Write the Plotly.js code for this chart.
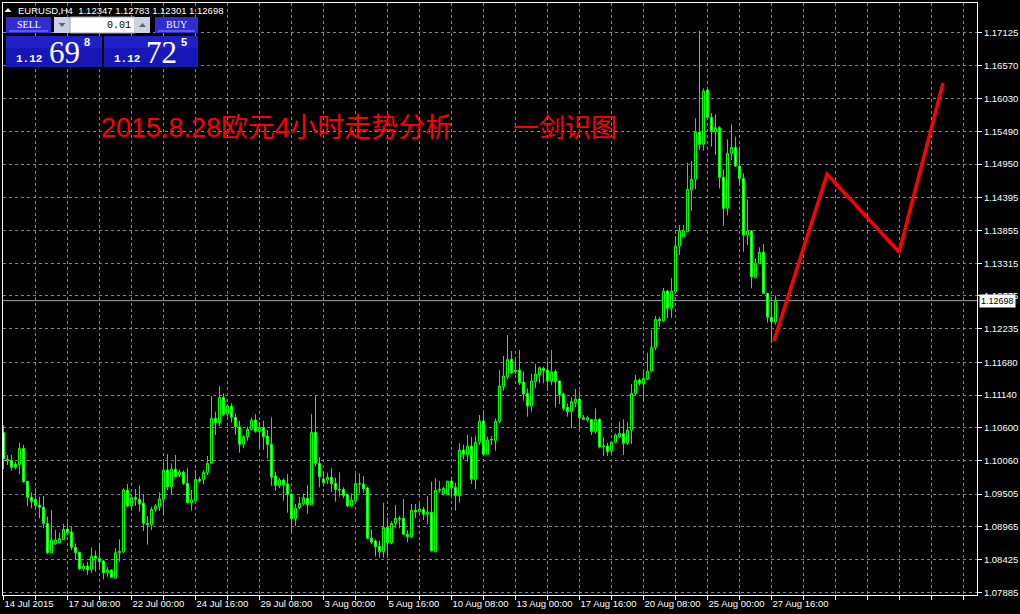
<!DOCTYPE html>
<html>
<head>
<meta charset="utf-8">
<script src="https://cdn.plot.ly/plotly-3.0.1.min.js"></script>
<style>
  html, body { margin: 0; padding: 0; background: #000; }
  #chart { width: 1020px; height: 614px; }
</style>
</head>
<body>
<div id="chart"></div>
<script>
// EURUSD H4 bars, 14 Jul 2015 16:00 to 27 Aug 2015 20:00
const openP = [
  1.10525,1.10079,1.10063,1.10002,1.09997,1.10261,1.09716,1.09452,1.09419,1.09326,
  1.09287,1.09023,1.08539,1.08688,1.08704,1.08759,1.08930,1.08880,1.08627,1.08545,
  1.08275,1.08319,1.08264,1.08484,1.08446,1.08402,1.08209,1.08253,1.08121,1.08539,
  1.08550,1.09573,1.09309,1.09452,1.09419,1.09353,1.09023,1.09001,1.09254,1.09298,
  1.09419,1.09903,1.09628,1.09914,1.09821,1.09865,1.09683,1.09364,1.09397,1.09749,
  1.09749,1.09859,1.10013,1.10756,1.10684,1.11102,1.10827,1.10959,1.10772,1.10618,
  1.10327,1.10453,1.10574,1.10728,1.10541,1.10607,1.10464,1.10327,1.09804,1.09650,
  1.09738,1.09672,1.09507,1.09100,1.09282,1.09348,1.09436,1.09331,1.10525,1.10013,
  1.09755,1.09738,1.09782,1.09683,1.09584,1.09584,1.09496,1.09309,1.09397,1.09683,
  1.09672,1.09606,1.08776,1.08732,1.08644,1.08556,1.08957,1.08704,1.09023,1.09106,
  1.09106,1.08842,1.08803,1.09238,1.09216,1.09254,1.09172,1.09205,1.08556,1.09568,
  1.09507,1.09496,1.09722,1.09617,1.09480,1.10233,1.10156,1.10299,1.09749,1.10360,
  1.10712,1.10162,1.10398,1.10387,1.10701,1.11278,1.11443,1.11729,1.11526,1.11553,
  1.11355,1.11168,1.10959,1.11361,1.11471,1.11581,1.11553,1.11372,1.11526,1.11372,
  1.11157,1.10937,1.10866,1.11014,1.11075,1.10767,1.10728,1.10739,1.10536,1.10739,
  1.10288,1.10299,1.10222,1.10360,1.10453,1.10508,1.10343,1.10563,1.11168,1.11388,
  1.11322,1.11405,1.11537,1.11928,1.12390,1.12366,1.12857,1.12571,1.12845,1.13599,
  1.13752,1.13835,1.14523,1.14700,1.15475,1.15277,1.16173,1.15723,1.15485,1.15551,
  1.14733,1.14221,1.15129,1.15228,1.14919,1.14716,1.13781,1.13847,1.13083,1.13314,
  1.13495,1.12819,1.12423,1.12347
];
const highP = [
  1.10646,1.10151,1.10151,1.10041,1.10354,1.10316,1.09716,1.09535,1.09601,1.09463,
  1.09474,1.09133,1.09243,1.08913,1.08869,1.09012,1.09040,1.08968,1.08693,1.08556,
  1.08363,1.08391,1.08627,1.08572,1.08704,1.08418,1.08308,1.08264,1.08611,1.08759,
  1.09601,1.09672,1.09463,1.09590,1.09650,1.09491,1.09144,1.09298,1.09342,1.09535,
  1.10030,1.10167,1.10013,1.10151,1.09914,1.09898,1.09942,1.09573,1.09903,1.09793,
  1.09903,1.10134,1.11124,1.10866,1.11289,1.11168,1.10992,1.11003,1.10838,1.10717,
  1.10481,1.10618,1.10772,1.10827,1.10701,1.10717,1.10563,1.10772,1.09876,1.09771,
  1.09766,1.09837,1.09518,1.09342,1.09463,1.09518,1.09656,1.10827,1.11124,1.10118,
  1.09859,1.09859,1.09931,1.09782,1.09865,1.09617,1.09518,1.09518,1.09837,1.09848,
  1.09804,1.09628,1.08924,1.08759,1.08737,1.09364,1.09122,1.09056,1.09326,1.09144,
  1.09425,1.08913,1.09342,1.09342,1.09342,1.09298,1.09474,1.09711,1.09766,1.09722,
  1.09628,1.09722,1.09793,1.09694,1.10343,1.10321,1.10481,1.10453,1.10475,1.10811,
  1.10893,1.10453,1.10464,1.10756,1.11553,1.11784,1.12131,1.11867,1.11718,1.11883,
  1.11526,1.11251,1.11487,1.11652,1.11608,1.11608,1.11707,1.11883,1.11564,1.11372,
  1.11179,1.11003,1.11102,1.11240,1.11212,1.10811,1.10800,1.10739,1.10921,1.10756,
  1.10442,1.10354,1.10382,1.10508,1.10701,1.10739,1.10690,1.11322,1.11471,1.11416,
  1.11526,1.11839,1.12213,1.12444,1.12432,1.12906,1.12873,1.13071,1.13764,1.13946,
  1.13946,1.14973,1.15002,1.15706,1.17147,1.16201,1.16185,1.15794,1.15772,1.15579,
  1.14865,1.15360,1.15607,1.15402,1.15237,1.14799,1.14370,1.13863,1.13396,1.13578,
  1.13632,1.12819,1.12680,1.12783
];
const lowP = [
  1.09914,1.09986,1.09892,1.09914,1.09832,1.09694,1.09309,1.09271,1.09260,1.09106,
  1.08941,1.08517,1.08528,1.08666,1.08693,1.08748,1.08820,1.08583,1.08418,1.08253,
  1.08242,1.08171,1.08209,1.08226,1.08270,1.08099,1.08143,1.08116,1.08105,1.08391,
  1.08539,1.09287,1.09232,1.09309,1.09216,1.08897,1.08671,1.08913,1.09216,1.09227,
  1.09172,1.09573,1.09491,1.09777,1.09782,1.09656,1.09353,1.09232,1.09381,1.09694,
  1.09667,1.09821,1.10013,1.10481,1.10629,1.10794,1.10783,1.10684,1.10481,1.10189,
  1.10261,1.10387,1.10563,1.10519,1.10261,1.10233,1.10096,1.09645,1.09562,1.09606,
  1.09397,1.09199,1.08875,1.08979,1.09254,1.09315,1.09183,1.09331,1.09958,1.09617,
  1.09628,1.09672,1.09540,1.09381,1.09463,1.09436,1.09298,1.09298,1.09381,1.09518,
  1.09529,1.08759,1.08677,1.08473,1.08457,1.08457,1.08484,1.08677,1.08941,1.08941,
  1.08831,1.08710,1.08776,1.09106,1.09199,1.09078,1.09007,1.08556,1.08545,1.09529,
  1.09480,1.09491,1.09480,1.09232,1.09364,1.10079,1.10041,1.09672,1.09584,1.10316,
  1.10151,1.10151,1.10316,1.10222,1.10673,1.11212,1.11399,1.11487,1.11487,1.11306,
  1.11047,1.10783,1.10866,1.11251,1.11333,1.11333,1.11207,1.11306,1.10937,1.10992,
  1.10882,1.10783,1.10591,1.10937,1.10563,1.10728,1.10701,1.10481,1.10508,1.10261,
  1.10134,1.10134,1.10167,1.10343,1.10442,1.10151,1.10316,1.10332,1.11141,1.11295,
  1.11047,1.11388,1.11520,1.11883,1.12267,1.12350,1.12406,1.12411,1.12845,1.13451,
  1.13743,1.13835,1.14181,1.14535,1.15183,1.15171,1.15706,1.15237,1.15101,1.14551,
  1.13934,1.14111,1.15018,1.14907,1.14622,1.13505,1.13616,1.12901,1.13071,1.13314,
  1.12807,1.12333,1.11994,1.12301
];
const closeP = [
  1.10085,1.10057,1.09947,1.09947,1.10261,1.09710,1.09452,1.09381,1.09315,1.09287,
  1.09023,1.08539,1.08748,1.08748,1.08770,1.08924,1.08869,1.08627,1.08539,1.08275,
  1.08319,1.08253,1.08484,1.08446,1.08391,1.08209,1.08253,1.08132,1.08539,1.08561,
  1.09573,1.09309,1.09452,1.09419,1.09342,1.09023,1.09001,1.09254,1.09309,1.09425,
  1.09903,1.09628,1.09920,1.09793,1.09870,1.09683,1.09364,1.09408,1.09749,1.09727,
  1.09865,1.10013,1.10756,1.10684,1.11102,1.10822,1.10959,1.10772,1.10618,1.10327,
  1.10453,1.10574,1.10728,1.10541,1.10607,1.10453,1.10327,1.09782,1.09650,1.09738,
  1.09656,1.09502,1.09100,1.09276,1.09353,1.09447,1.09331,1.10525,1.10013,1.09793,
  1.09694,1.09782,1.09678,1.09584,1.09573,1.09480,1.09309,1.09408,1.09683,1.09672,
  1.09595,1.08776,1.08715,1.08638,1.08556,1.08957,1.08704,1.09023,1.09106,1.09095,
  1.08842,1.08803,1.09238,1.09210,1.09260,1.09172,1.09205,1.08572,1.09568,1.09584,
  1.09600,1.09722,1.09611,1.09480,1.10233,1.10162,1.10299,1.09749,1.10360,1.10712,
  1.10162,1.10398,1.10409,1.10712,1.11289,1.11454,1.11729,1.11509,1.11553,1.11344,
  1.11157,1.10959,1.11372,1.11487,1.11592,1.11542,1.11372,1.11526,1.11361,1.11141,
  1.10921,1.10866,1.11031,1.11075,1.10767,1.10739,1.10767,1.10536,1.10739,1.10288,
  1.10299,1.10206,1.10360,1.10481,1.10508,1.10343,1.10563,1.11168,1.11388,1.11333,
  1.11416,1.11537,1.11928,1.12390,1.12366,1.12857,1.12571,1.12857,1.13599,1.13851,
  1.13851,1.14535,1.14700,1.15485,1.15277,1.16157,1.15723,1.15485,1.15551,1.14733,
  1.14221,1.15129,1.15228,1.14919,1.14716,1.13781,1.13847,1.13092,1.13314,1.13495,
  1.12819,1.12423,1.12347,1.12698
];

// Bottom axis labels, one every 16 bars
const dateTickIndex = [0, 16, 32, 48, 64, 80, 96, 112, 128, 144, 160, 176, 192];
const dateTickText = [
  "14 Jul 2015", "17 Jul 08:00", "22 Jul 00:00", "24 Jul 16:00", "29 Jul 08:00",
  "3 Aug 00:00", "5 Aug 16:00", "10 Aug 08:00", "13 Aug 00:00", "17 Aug 16:00",
  "20 Aug 08:00", "25 Aug 00:00", "27 Aug 16:00"
];
// Price scale labels
const priceTicks = [
  1.17125, 1.16570, 1.16030, 1.15490, 1.14950, 1.14395, 1.13855, 1.13315, 1.12775,
  1.12235, 1.11680, 1.11140, 1.10600, 1.10060, 1.09505, 1.08965, 1.08425, 1.07885
];
// Hand-drawn forecast zigzag (bar position, price)
const forecastBar = [192.6, 205.9, 223.9, 234.9];
const forecastPrice = [1.12032, 1.14787, 1.13500, 1.16289];
// One-click trading panel quotes
const sellQuote = ["1.12", "69", "8"];
const buyQuote = ["1.12", "72", "5"];
const lotSize = "0.01";
const symbolName = "EURUSD,H4";
const titleLeft = "2015.8.28欧元4小时走势分析";
const titleRight = "一剑识图";

const barIndex = openP.map((_, i) => i);
const lastBar = openP.length - 1;
const lastClose = closeP[lastBar];
const fmt5 = v => v.toFixed(5);

// ---- plot geometry (pixels) ----
const W = 1020, H = 614;
const PL = 3, PR = 977, PT = 3, PB = 595;
const px = x => (x - PL) / (PR - PL);
const py = y => (PB - y) / (PB - PT);

const GRID = '#778899';
const sansFont = 'Liberation Sans, Arial, sans-serif';

// vertical grid/minor ticks every 8 bars between the labelled ones
const minorVals = [];
for (let v = 8; v <= 243; v += 16) minorVals.push(v);
const extraMajor = [];
for (let v = 208; v <= 243; v += 16) extraMajor.push(v);

const shapes = [];
const annotations = [];

function rect(x0, y0, x1, y1, fill, line) {
  shapes.push({
    type: 'rect', xref: 'paper', yref: 'paper', layer: 'above',
    x0: px(x0), x1: px(x1), y0: py(y1), y1: py(y0),
    fillcolor: fill, line: { color: line || fill, width: line ? 1 : 0 }
  });
}
function hline(x0, x1, y, color) {
  shapes.push({
    type: 'line', xref: 'paper', yref: 'paper', layer: 'above',
    x0: px(x0), x1: px(x1), y0: py(y), y1: py(y),
    line: { color: color, width: 1 }
  });
}
function tri(cx, cy, up, color) {
  const s = 3.5;
  const pts = up
    ? [[cx - s, cy + 2], [cx + s, cy + 2], [cx, cy - 2]]
    : [[cx - s, cy - 2], [cx + s, cy - 2], [cx, cy + 2]];
  const d = 'M' + pts.map(p => px(p[0]) + ',' + py(p[1])).join(' L') + ' Z';
  shapes.push({ type: 'path', xref: 'paper', yref: 'paper', layer: 'above',
    path: d, fillcolor: color, line: { color: color, width: 0 } });
}
function label(x, y, text, opts) {
  opts = opts || {};
  annotations.push({
    xref: 'paper', yref: 'paper', x: px(x), y: py(y), text: text,
    showarrow: false, xanchor: opts.xanchor || 'left', yanchor: opts.yanchor || 'middle',
    font: { family: opts.family || sansFont, size: opts.size || 9,
            color: opts.color || '#ffffff', weight: opts.weight || 'normal' },
    borderpad: 0
  });
}

// ---- header line ----
tri(8, 10, true, '#ffffff');
label(17, 10.5, symbolName + '\u00a0\u00a0' + [openP[lastBar], highP[lastBar], lowP[lastBar], closeP[lastBar]].map(fmt5).join('\u00a0'), { size: 9.5 });

// ---- trading panel ----
const btnBlue = '#2d2dd2';
const boxBlue = '#1717b8';
rect(6, 17, 51, 33, btnBlue);
hline(9, 48, 31, '#8c8cff');
label(28.5, 24.5, 'SELL', { xanchor: 'center', family: 'Liberation Serif, serif', size: 10 });
rect(54, 17, 70, 33, '#c9d1e2');
tri(62, 25, false, '#5a6478');
rect(70, 17, 135, 33, '#ffffff', '#9aa4b4');
label(132, 25, lotSize, { xanchor: 'right', family: 'Liberation Mono, monospace', size: 10, color: '#000000' });
rect(135, 17, 150, 33, '#c9d1e2');
tri(142.5, 25, true, '#5a6478');
rect(155, 17, 198, 33, btnBlue);
hline(158, 195, 31, '#8c8cff');
label(176.5, 24.5, 'BUY', { xanchor: 'center', family: 'Liberation Serif, serif', size: 10 });

rect(6, 36, 102, 67, boxBlue);
rect(6, 36, 102, 48, '#2020c8');
rect(104, 36, 198, 67, boxBlue);
rect(104, 36, 198, 48, '#2020c8');
label(15, 59, sellQuote[0], { family: 'Liberation Mono, monospace', size: 11, weight: 'bold' });
label(64, 52, sellQuote[1], { xanchor: 'center', family: 'Liberation Serif, serif', size: 31 });
label(86.5, 42, sellQuote[2], { xanchor: 'center', size: 11, weight: 'bold' });
label(113, 59, buyQuote[0], { family: 'Liberation Mono, monospace', size: 11, weight: 'bold' });
label(161, 52, buyQuote[1], { xanchor: 'center', family: 'Liberation Serif, serif', size: 31 });
label(183.5, 42, buyQuote[2], { xanchor: 'center', size: 11, weight: 'bold' });

// ---- red caption ----
const redFont = 'Liberation Sans, Noto Sans CJK SC, sans-serif';
label(100, 128, titleLeft, { family: redFont, size: 27, color: '#ff0000' });
label(512, 128, titleRight, { family: redFont, size: 26, color: '#ff0000' });

// ---- bid line and its price tag ----
shapes.push({
  type: 'line', xref: 'paper', yref: 'y', x0: 0, x1: 1, y0: lastClose, y1: lastClose,
  layer: 'below', line: { color: '#9aa6b2', width: 1 }
});
annotations.push({
  xref: 'paper', yref: 'y', x: 1, xshift: 2, y: lastClose, text: fmt5(lastClose),
  showarrow: false, xanchor: 'left', yanchor: 'middle', bgcolor: '#ffffff',
  font: { family: sansFont, size: 9, color: '#000000' }, borderpad: 1
});

const traces = [
  {
    type: 'candlestick', x: barIndex, open: openP, high: highP, low: lowP, close: closeP,
    increasing: { line: { color: '#00ff00', width: 1 }, fillcolor: '#000000' },
    decreasing: { line: { color: '#00ff00', width: 1 }, fillcolor: '#ffffff' },
    whiskerwidth: 0, hoverinfo: 'skip', showlegend: false
  },
  {
    type: 'scatter', mode: 'lines', x: forecastBar, y: forecastPrice,
    line: { color: '#ff0000', width: 3.5 }, hoverinfo: 'skip', showlegend: false
  }
];

const layout = {
  width: W, height: H,
  margin: { l: PL, r: W - PR, t: PT, b: H - PB, pad: 0 },
  paper_bgcolor: '#000000', plot_bgcolor: '#000000',
  showlegend: false, boxgap: 0.5, boxgroupgap: 0,
  xaxis: {
    type: 'linear', range: [-0.125, 243.375],
    tickmode: 'array', tickvals: dateTickIndex.concat(extraMajor),
    ticktext: dateTickText.concat(extraMajor.map(() => '')),
    ticks: 'outside', ticklen: 4, tickcolor: '#ffffff', tickwidth: 1,
    ticklabelposition: 'outside right', tickangle: 0, automargin: false,
    tickfont: { family: sansFont, size: 9.5, color: '#ffffff' },
    showgrid: true, gridcolor: GRID, gridwidth: 1, griddash: '3px,3px',
    minor: { tickmode: 'array', tickvals: minorVals, ticks: 'outside', ticklen: 4,
             tickcolor: '#ffffff', showgrid: true, gridcolor: GRID, griddash: '3px,3px' },
    showline: true, mirror: true, linecolor: '#ffffff', linewidth: 1,
    zeroline: false, rangeslider: { visible: false }, fixedrange: true
  },
  yaxis: {
    side: 'right', range: [1.07841, 1.17609], automargin: false,
    tickmode: 'array', tickvals: priceTicks, tickformat: '.5f',
    ticks: 'outside', ticklen: 4, tickcolor: '#ffffff', tickwidth: 1,
    tickfont: { family: sansFont, size: 9.5, color: '#ffffff' },
    showgrid: true, gridcolor: GRID, gridwidth: 1, griddash: '3px,3px',
    showline: true, mirror: true, linecolor: '#ffffff', linewidth: 1,
    zeroline: false, fixedrange: true
  },
  shapes: shapes,
  annotations: annotations
};

Plotly.newPlot('chart', traces, layout, { displayModeBar: false, staticPlot: true });
</script>
</body>
</html>
